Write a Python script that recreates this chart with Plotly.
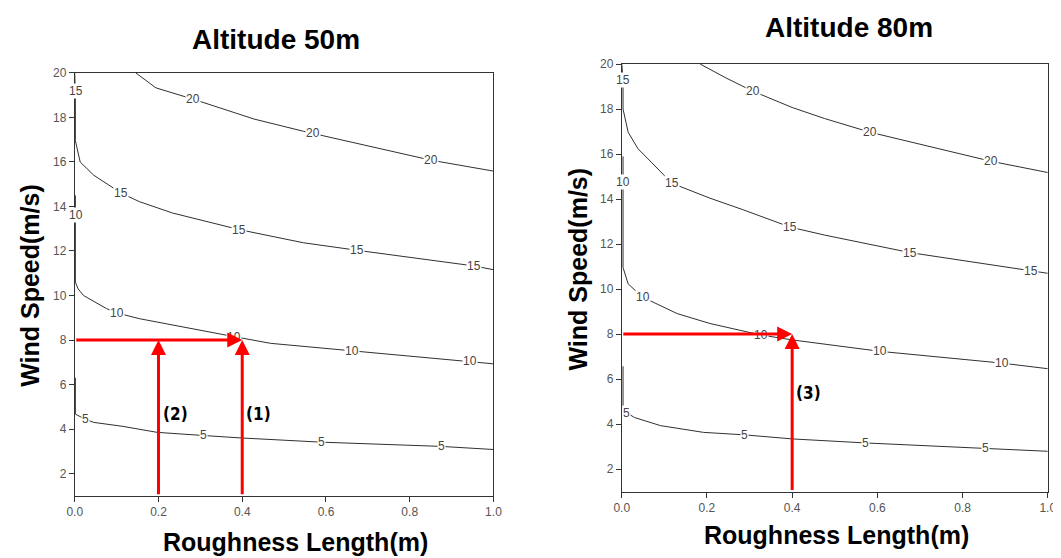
import plotly.graph_objects as go

# the page body adds an 8px margin; the figure is sized so that it fills the window
OFF = 8
W, H = 1061 - OFF, 558 - OFF

# ---------------- data ----------------
levels = [20, 15, 10, 5]

# Altitude 50m contour lines
a50_x = {
    20: [0.146, 0.194, 0.283, 0.428, 0.546, 0.851, 1.0],
    15: [0.0, 0.0015, 0.0015, 0.013, 0.045, 0.076, 0.111, 0.154, 0.233, 0.393, 0.428, 0.546, 0.675, 0.953, 1.0],
    10: [0.0015, 0.0015, 0.008, 0.021, 0.076, 0.1, 0.154, 0.233, 0.381, 0.468, 0.663, 0.945, 1.0],
    5:  [0.0015, 0.0015, 0.025, 0.045, 0.115, 0.197, 0.307, 0.397, 0.589, 0.875, 1.0],
}
a50_y = {
    20: [20.0, 19.33, 18.82, 17.93, 17.38, 16.08, 15.59],
    15: [20.0, 19.0, 16.96, 16.0, 15.41, 15.04, 14.6, 14.22, 13.71, 12.96, 12.82, 12.37, 12.03, 11.33, 11.16],
    10: [14.5, 10.6, 10.3, 10.0, 9.41, 9.22, 8.96, 8.67, 8.15, 7.85, 7.51, 7.04, 6.93],
    5:  [6.3, 4.67, 4.44, 4.30, 4.12, 3.85, 3.71, 3.60, 3.41, 3.22, 3.08],
}
a50_lab_x = {20: [0.283, 0.570, 0.851], 15: [0.003, 0.111, 0.393, 0.675, 0.953],
             10: [0.003, 0.1, 0.381, 0.663, 0.945], 5: [0.025, 0.307, 0.589, 0.875]}
a50_lab_y = {20: [18.82, 17.30, 16.08], 15: [19.19, 14.6, 12.96, 12.03, 11.33],
             10: [13.63, 9.22, 8.15, 7.51, 7.04], 5: [4.44, 3.71, 3.41, 3.22]}

# Altitude 80m contour lines
a80_x = {
    20: [0.184, 0.245, 0.307, 0.4, 0.476, 0.583, 0.867, 1.0],
    15: [0.0, 0.003, 0.003, 0.015, 0.038, 0.076, 0.118, 0.207, 0.284, 0.396, 0.476, 0.677, 0.96, 1.0],
    10: [0.003, 0.003, 0.015, 0.049, 0.13, 0.207, 0.326, 0.4, 0.607, 0.892, 1.0],
    5:  [0.003, 0.003, 0.011, 0.03, 0.091, 0.192, 0.288, 0.4, 0.573, 0.854, 1.0],
}
a80_y = {
    20: [20.0, 19.38, 18.8, 18.07, 17.58, 16.97, 15.68, 15.18],
    15: [20.0, 19.3, 18.0, 16.97, 16.24, 15.5, 14.7, 14.04, 13.53, 12.75, 12.4, 11.62, 10.81, 10.7],
    10: [15.9, 10.96, 10.23, 9.64, 8.91, 8.47, 7.96, 7.74, 7.23, 6.71, 6.46],
    5:  [6.57, 4.81, 4.51, 4.29, 3.93, 3.63, 3.52, 3.34, 3.16, 2.93, 2.79],
}
a80_lab_x = {20: [0.307, 0.583, 0.867], 15: [0.003, 0.118, 0.396, 0.677, 0.96],
             10: [0.003, 0.049, 0.326, 0.607, 0.892], 5: [0.011, 0.288, 0.573, 0.854]}
a80_lab_y = {20: [18.8, 16.97, 15.68], 15: [19.31, 14.7, 12.75, 11.62, 10.81],
             10: [14.77, 9.64, 7.96, 7.23, 6.71], 5: [4.51, 3.52, 3.16, 2.93]}

# red guide arrows: (x_from, y_from, x_to, y_to)
arrows50 = [(0.0, 8.0, 0.4, 8.0), (0.2, 1.0, 0.2, 8.0), (0.4, 1.0, 0.4, 8.0)]
arrows80 = [(0.0, 8.0, 0.4, 8.0), (0.4, 1.0, 0.4, 8.0)]
marks50_text = ["(2)", "(1)"]
marks50_x = [0.24, 0.44]
marks50_y = [4.67, 4.67]
marks80_text = ["(3)"]
marks80_x = [0.438]
marks80_y = [5.4]

x_ticks = [0.0, 0.2, 0.4, 0.6, 0.8, 1.0]
y_ticks = [2, 4, 6, 8, 10, 12, 14, 16, 18, 20]

titles = ["Altitude 50m", "Altitude 80m"]
x_title = "Roughness Length(m)"
y_title = "Wind Speed(m/s)"

# ---------------- figure ----------------
fig = go.Figure()


def px_x(p):
    return (p - OFF) / W


def px_y(p):
    return 1 - (p - OFF) / H


annotations = []


def add_panel(xs, ys, lx, ly, arrows, mtext, mx, my, xa, ya):
    for lv in levels:
        fig.add_trace(go.Scatter(x=xs[lv], y=ys[lv], mode="lines",
                                 line=dict(color="#303030", width=1),
                                 xaxis=xa, yaxis=ya, showlegend=False,
                                 hoverinfo="skip"))
    xr = "x" if xa == "x" else "x2"
    yr = "y" if ya == "y" else "y2"
    for lv in levels:
        for X, Y in zip(lx[lv], ly[lv]):
            annotations.append(dict(x=X, y=Y, xref=xr, yref=yr, text=str(lv),
                                    showarrow=False, bgcolor="white", borderpad=0,
                                    xanchor="center", yanchor="middle",
                                    font=dict(family="Liberation Sans, Arial", size=12,
                                              color="#444444")))
    for (x0, y0, x1, y1) in arrows:
        annotations.append(dict(x=x1, y=y1, ax=x0, ay=y0, xref=xr, yref=yr,
                                axref=xr, ayref=yr, text="", showarrow=True,
                                arrowhead=2, arrowsize=1.0, arrowwidth=3,
                                arrowcolor="#ff0000"))
    for t, X, Y in zip(mtext, mx, my):
        annotations.append(dict(x=X, y=Y, xref=xr, yref=yr, text="<b>%s</b>" % t,
                                showarrow=False, xanchor="center", yanchor="middle",
                                font=dict(family="Liberation Sans Narrow, DejaVu Sans Condensed, Arial",
                                          size=17, color="black")))


add_panel(a50_x, a50_y, a50_lab_x, a50_lab_y, arrows50, marks50_text, marks50_x, marks50_y, "x", "y")
add_panel(a80_x, a80_y, a80_lab_x, a80_lab_y, arrows80, marks80_text, marks80_x, marks80_y, "x2", "y2")

big = dict(family="Liberation Sans, Arial", size=28, color="black")
axt = dict(family="Liberation Sans, Arial", size=25, color="black")
common = dict(xref="paper", yref="paper", showarrow=False, xanchor="center", yanchor="middle")
annotations += [
    dict(x=px_x(272.5), y=px_y(32.5), text="<b>%s</b>" % titles[0], font=big, **common),
    dict(x=px_x(855), y=px_y(21), text="<b>%s</b>" % titles[1], font=big, **common),
    dict(x=px_x(292), y=px_y(542), text="<b>%s</b>" % x_title, font=axt, **common),
    dict(x=px_x(842), y=px_y(535), text="<b>%s</b>" % x_title, font=axt, **common),
    dict(x=px_x(21.5), y=px_y(282), text="<b>%s</b>" % y_title, textangle=-90, font=axt, **common),
    dict(x=px_x(579), y=px_y(265), text="<b>%s</b>" % y_title, textangle=-90, font=axt, **common),
]

tickfont = dict(family="Liberation Sans, Arial", size=12, color="#555")
axis_common = dict(showgrid=False, zeroline=False, showline=True, mirror=True,
                   linecolor="#333", linewidth=1, ticks="outside", ticklen=5,
                   tickcolor="#333", tickfont=tickfont)

fig.update_layout(
    width=W, height=H, margin=dict(l=0, r=0, t=0, b=0),
    paper_bgcolor="white", plot_bgcolor="white", showlegend=False,
    xaxis=dict(domain=[px_x(67.7), px_x(493.3)], range=[0, 1], tickvals=x_ticks,
               tickformat=".1f", anchor="y", **axis_common),
    yaxis=dict(domain=[px_y(495), px_y(66.7)], range=[1, 20], tickvals=y_ticks,
               anchor="x", **axis_common),
    xaxis2=dict(domain=[px_x(623.7), px_x(1056.7)], range=[0, 1], tickvals=x_ticks,
                tickformat=".1f", anchor="y2", **axis_common),
    yaxis2=dict(domain=[px_y(490.7), px_y(57.7)], range=[1, 20], tickvals=y_ticks,
                anchor="x2", **axis_common),
    annotations=annotations,
)

fig.write_html("out.html")
